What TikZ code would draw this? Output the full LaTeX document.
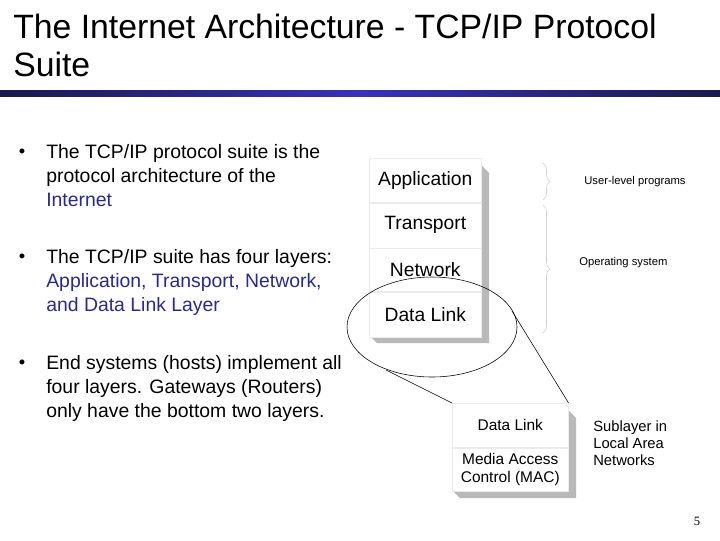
\documentclass[tikz,border=0pt]{standalone}
\usepackage{fontspec}
\setmainfont{Liberation Sans}
\newfontfamily\pagefont{Liberation Serif}
\usetikzlibrary{decorations.pathreplacing,shadings,shapes.geometric}
\definecolor{darkbar}{RGB}{25,25,80}
\definecolor{midbar}{RGB}{55,50,190}
\definecolor{linkblue}{RGB}{40,40,150}
\tikzset{
  layer/.style={draw=gray!15, fill=white, minimum width=112*0.025cm, inner sep=0pt, font=\fontsize{13.7}{15}\selectfont},
  sublayer/.style={draw=gray!15, fill=white, minimum width=116*0.025cm, inner sep=0pt, font=\fontsize{11}{13}\selectfont, align=center},
  shade/.style={fill=gray!55, draw=none},
  bullet/.style={anchor=north west, align=left, font=\fontsize{13.8}{17}\selectfont, inner sep=0pt},
  note/.style={anchor=west, font=\fontsize{8}{9.5}\selectfont, align=left, inner sep=0pt},
  bracebar/.style={draw=gray!35, decorate, decoration={brace, amplitude=5pt}}
}
\begin{document}
\begin{tikzpicture}[x=0.025cm, y=-0.025cm]
    \useasboundingbox (0,0) rectangle (720,540);
    % title and bar
    \node[anchor=north west, align=left, font=\fontsize{24}{27}\selectfont, inner sep=0pt] (title) at (13,14) {The Internet Architecture - TCP/IP Protocol\\Suite};
    \shade[left color=darkbar, right color=midbar] (0,90) rectangle (360,96);
    \shade[left color=midbar, right color=darkbar] (360,90) rectangle (720,96);

    % bullets
    \node[bullet] (b1) at (46,144) {The TCP/IP protocol suite is the\\protocol architecture of the\\\textcolor{linkblue}{Internet}};
    \node[bullet] (b2) at (46,249) {The TCP/IP suite has four layers:\\\textcolor{linkblue}{Application, Transport, Network,}\\\textcolor{linkblue}{and Data Link Layer}};
    \node[bullet] (b3) at (46,355) {End systems (hosts) implement all\\four layers. Gateways (Routers)\\only have the bottom two layers.};
    \foreach \y in {153,258,364} \node[font=\fontsize{13}{17}\selectfont] at (22,\y) {•};

    % layer stack
    \fill[shade] (481,165) -- (489,173) -- (489,343) -- (377,343) -- (369,335) -- (481,335) -- cycle;
    \node[layer, minimum height=44*0.025cm, anchor=north west] (app) at (369,158) {Application};
    \node[layer, minimum height=45*0.025cm, anchor=north] (trans) at (app.south) {Transport};
    \node[layer, minimum height=43*0.025cm, anchor=north] (net) at (trans.south) {Network};
    \node[layer, minimum height=45*0.025cm, anchor=north] (dl) at (net.south) {Data Link};

    % braces
    \draw[bracebar] (543,163) -- (543,200);
    \draw[bracebar] (543,205) -- (543,333);
    \node[note] (user) at (584,182) {User-level programs};
    \node[note] (os) at (579,263) {Operating system};

    % zoom ellipse
    \node[draw, ellipse, minimum width=170*0.025cm, minimum height=100*0.025cm, inner sep=0pt] (zoom) at (432,327) {};
    \coordinate (zl) at (386,370);
    \coordinate (zr) at (512,311);

    % sublayer stack
    \fill[shade] (568,410) -- (576,418) -- (576,498) -- (460,498) -- (452,490) -- (568,490) -- cycle;
    \node[sublayer, minimum height=44*0.025cm, anchor=north west] (sdl) at (452,403) {Data Link};
    \node[sublayer, minimum height=43*0.025cm, anchor=north] (mac) at (sdl.south) {Media Access\\Control (MAC)};
    \draw (zl) -- (sdl.north west);
    \draw (zr) -- (sdl.north east);
    \node[note, anchor=north west, font=\fontsize{10.5}{12}\selectfont] (lan) at (593,421) {Sublayer in\\Local Area\\Networks};

    \node[font=\fontsize{9}{10}\pagefont] (page) at (697,521) {5};
\end{tikzpicture}
\end{document}
